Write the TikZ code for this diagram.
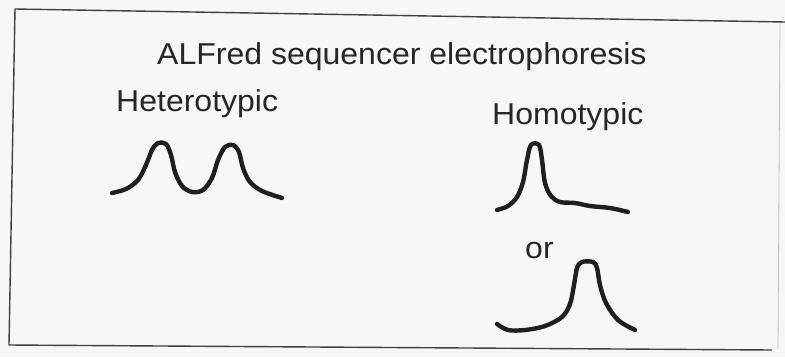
\documentclass[tikz,border=0pt]{standalone}
\usepackage{fontspec}
\setmainfont{Liberation Sans}[FakeStretch=1.06]
\begin{document}
\begin{tikzpicture}[x=1pt,y=-1pt,
  lbl/.style={anchor=base west, inner sep=0pt, text=black!85, font=\fontsize{30.2}{35}\selectfont},
  trace/.style={line width=4.4pt, black!88, line cap=round, line join=round},
  frameline/.style={line width=1.4pt, black!75}]
\useasboundingbox[fill=black!3] (0,0) rectangle (785,357);
% frame
\draw[frameline] (785,22) -- (15,9) -- (9,345) -- (772,350);
\draw[line width=0.8pt, black!25] (780,23) -- (778,349);
% labels
\node[lbl] (title) at (157,64) {ALFred sequencer electrophoresis};
\node[lbl] (het) at (116,111) {Heterotypic};
\node[lbl] (hom) at (492,124) {Homotypic};
\node[lbl] (or) at (525,258) {or};
% heterotypic trace
\draw[trace] plot[smooth, tension=0.55] coordinates {
  (112,193) (126,189) (138,180) (146,165) (152,150) (158,143) (166,144) (171,155)
  (175,172) (182,186) (192,192) (203,190) (212,178) (218,160) (225,147) (233,145)
  (239,152) (243,168) (250,182) (262,191) (282,198)};
% homotypic trace 1
\draw[trace] plot[smooth, tension=0.55] coordinates {
  (497,210) (508,206) (517,197) (523,182) (527,160) (531,145) (539,145) (542,160)
  (545,183) (551,196) (560,202) (575,203) (590,206) (610,208) (628,212)};
% homotypic trace 2
\draw[trace] plot[smooth, tension=0.55] coordinates {
  (497,324) (508,330) (525,330) (545,326) (562,317) (570,304) (574,285) (577,268)
  (582,262) (593,262) (597,268) (600,285) (606,303) (618,320) (635,330)};
\end{tikzpicture}
\end{document}
